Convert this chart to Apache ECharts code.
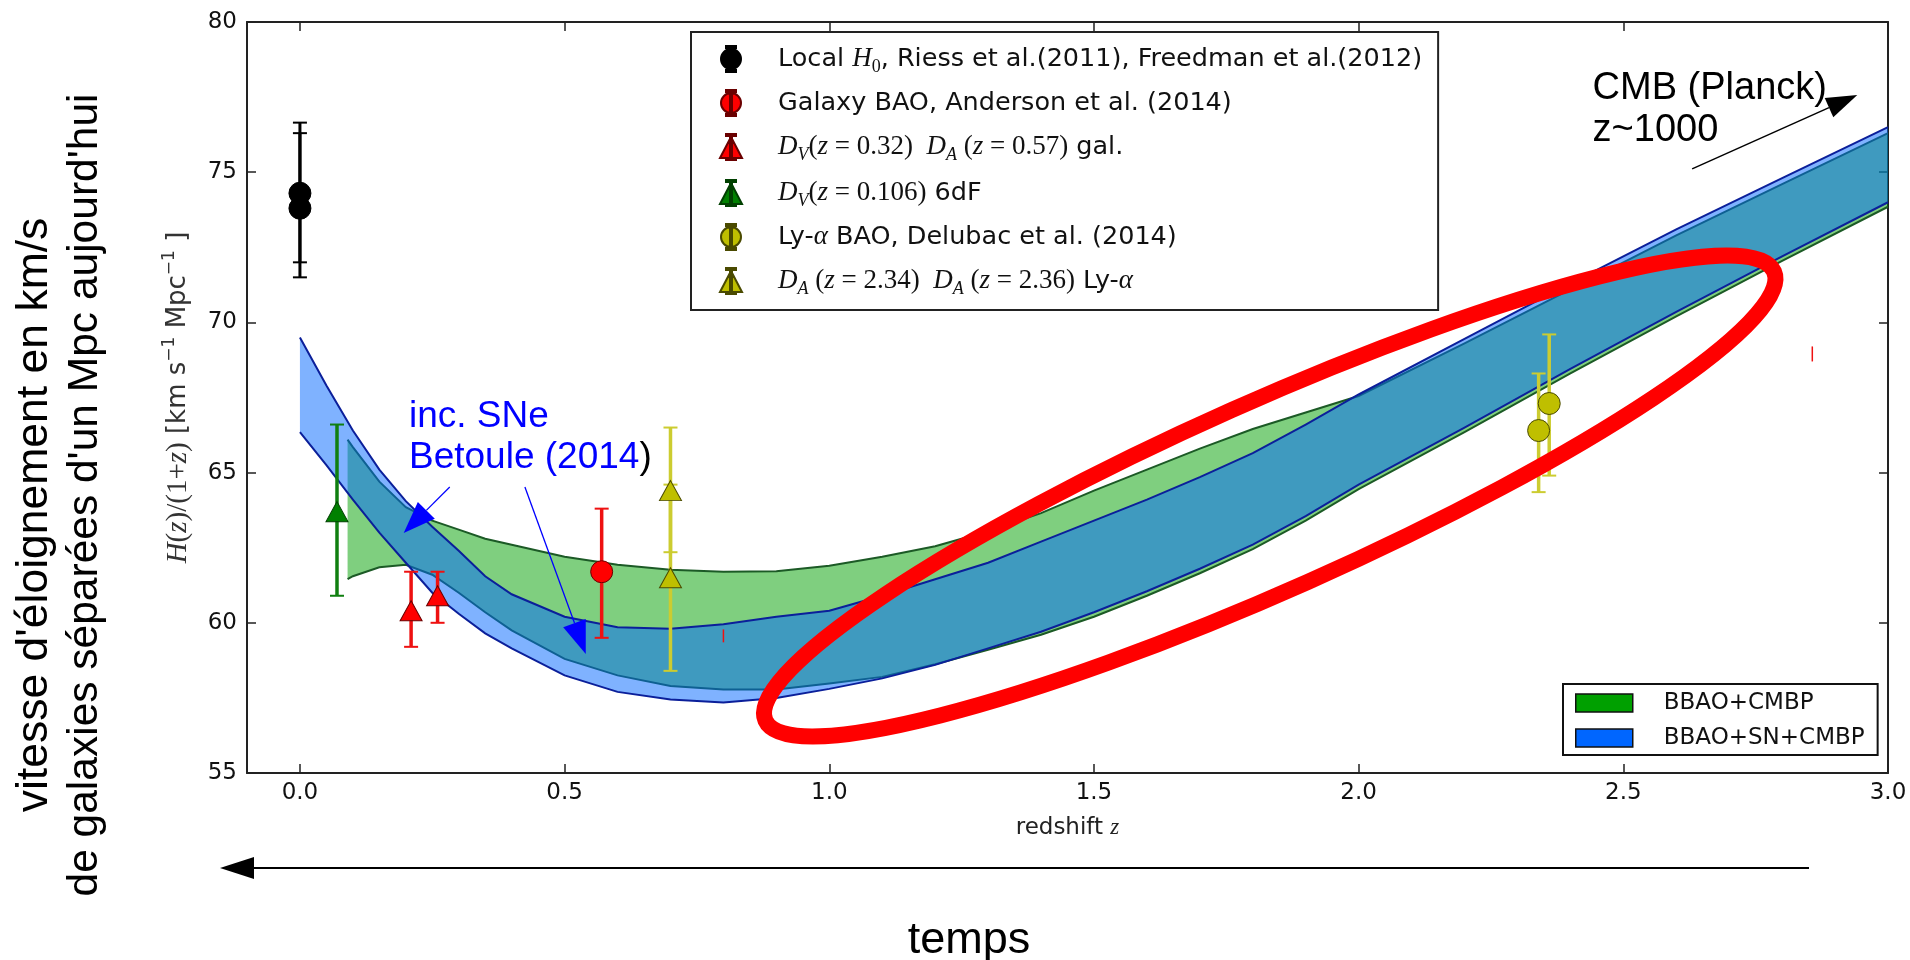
<!DOCTYPE html>
<html>
<head>
<meta charset="utf-8">
<script src="https://cdn.jsdelivr.net/npm/echarts@6/dist/echarts.min.js"></script>
<style>
  html, body { margin: 0; padding: 0; background: #fff; }
  #chart { width: 1910px; height: 960px; }
</style>
</head>
<body>
<div id="chart"></div>
<script>
// valeurs
var xTicks = [0, 0.5, 1, 1.5, 2, 2.5, 3];

// bande BBAO+SN+CMBP (bleue)
var zBlue  = [0, 0.05, 0.1, 0.15, 0.2, 0.25, 0.3, 0.35, 0.4, 0.5, 0.6, 0.7, 0.8, 0.9, 1.0, 1.1, 1.2, 1.3, 1.4, 1.5, 1.6, 1.7, 1.8, 1.9, 2.0, 2.2, 2.4, 2.6, 2.8, 3.0];
var blueHi = [69.5, 67.9, 66.4, 65.1, 64.05, 63.2, 62.4, 61.55, 60.95, 60.2, 59.85, 59.8, 59.95, 60.2, 60.4, 60.9, 61.45, 62.0, 62.7, 63.4, 64.1, 64.85, 65.65, 66.6, 67.6, 69.45, 71.3, 73.1, 74.8, 76.5];
var blueLo = [66.35, 65.25, 64.1, 63.0, 62.0, 61.0, 60.3, 59.65, 59.15, 58.25, 57.7, 57.45, 57.35, 57.5, 57.8, 58.15, 58.6, 59.15, 59.7, 60.35, 61.05, 61.8, 62.6, 63.55, 64.6, 66.5, 68.45, 70.35, 72.2, 74.0];

// bande BBAO+CMBP (verte)
var zGreen  = [0.09, 0.1, 0.15, 0.2, 0.25, 0.3, 0.35, 0.4, 0.5, 0.6, 0.7, 0.8, 0.9, 1.0, 1.1, 1.2, 1.3, 1.4, 1.5, 1.6, 1.7, 1.8, 1.9, 2.0, 2.2, 2.4, 2.6, 2.8, 3.0];
var greenHi = [66.1, 65.85, 64.7, 63.85, 63.4, 63.1, 62.8, 62.6, 62.2, 61.93, 61.77, 61.7, 61.72, 61.9, 62.2, 62.55, 63.05, 63.65, 64.4, 65.1, 65.8, 66.45, 67.0, 67.55, 69.3, 71.1, 72.9, 74.6, 76.3];
var greenLo = [61.45, 61.55, 61.85, 61.93, 61.6, 61.0, 60.35, 59.75, 58.8, 58.25, 57.9, 57.78, 57.78, 57.98, 58.2, 58.62, 59.1, 59.6, 60.2, 60.9, 61.65, 62.45, 63.4, 64.45, 66.35, 68.3, 70.2, 72.05, 73.85];

// points : [z, valeur, bas, haut]
var localH0    = [[0, 74.3, 72.0, 76.65], [0, 73.8, 71.5, 76.3]];
var galaxyBao  = [[0.57, 61.7, 59.5, 63.8]];
var galaxyDvDa = [[0.21, 60.4, 59.2, 61.7], [0.26, 60.9, 60.0, 61.7]];
var sixdf      = [[0.07, 63.7, 60.9, 66.6]];
var lyaBao     = [[2.34, 66.4, 64.35, 68.3], [2.36, 67.3, 64.9, 69.6]];
var lyaDa      = [[0.70, 64.4, 62.35, 66.5], [0.70, 61.5, 58.4, 64.6]];
// petits traits rouges isolés : [z, bas, haut]
var strayRed   = [[0.80, 59.35, 59.78], [2.857, 68.7, 69.2]];

var nH0 = 'Local H0, Riess et al.(2011), Freedman et al.(2012)';
var nGal = 'Galaxy BAO, Anderson et al. (2014)';
var nGalDa = 'DV(z=0.32) DA(z=0.57) gal.';
var n6df = 'DV(z=0.106) 6dF';
var nLya = 'Ly-a BAO, Delubac et al. (2014)';
var nLyaDa = 'DA(z=2.34) DA(z=2.36) Ly-a';
var nGreen = 'BBAO+CMBP';
var nBlue = 'BBAO+SN+CMBP';

var legendText = {};
legendText[nH0] = '{t|Local }{mi|H}{subr|0}{t|, Riess et al.(2011), Freedman et al.(2012)}';
legendText[nGal] = '{t|Galaxy BAO, Anderson et al. (2014)}';
legendText[nGalDa] = '{mi|D}{sub|V}{mr|(}{mi|z}{mr| = 0.32)  }{mi|D}{sub|A}{mr| (}{mi|z}{mr| = 0.57)}{t| gal.}';
legendText[n6df] = '{mi|D}{sub|V}{mr|(}{mi|z}{mr| = 0.106)}{t| 6dF}';
legendText[nLya] = '{t|Ly-}{mi|α}{t| BAO, Delubac et al. (2014)}';
legendText[nLyaDa] = '{mi|D}{sub|A}{mr| (}{mi|z}{mr| = 2.34)  }{mi|D}{sub|A}{mr| (}{mi|z}{mr| = 2.36)}{t| Ly-}{mi|α}';

var capsLine = 'M6,0H16V2H12V24H16V26H6V24H10V2H6Z ';
var iconCircle = 'path://' + capsLine + 'M1,13A10,10 0 1,1 21,13A10,10 0 1,1 1,13Z';
var iconTri = 'path://' + capsLine + 'M0,24L11,3L22,24Z';

function bandSeries(name, zs, hi, lo, fill, edge) {
  return {
    type: 'custom',
    name: name,
    silent: true,
    data: [[zs[0], lo[0]]],
    renderItem: function (params, api) {
      var top = zs.map(function (z, i) { return api.coord([z, hi[i]]); });
      var bot = zs.map(function (z, i) { return api.coord([z, lo[i]]); });
      return {
        type: 'group',
        children: [
          { type: 'polygon', shape: { points: top.concat(bot.slice().reverse()) }, style: { fill: fill } },
          { type: 'polyline', shape: { points: top }, style: { stroke: edge, lineWidth: 2, fill: null } },
          { type: 'polyline', shape: { points: bot }, style: { stroke: edge, lineWidth: 2, fill: null } }
        ]
      };
    }
  };
}

function errorSeries(name, rows, color, barW, capW, loDim, hiDim) {
  return {
    type: 'custom',
    name: name,
    silent: true,
    data: rows,
    encode: { x: 0, y: 1 },
    z: 3,
    renderItem: function (params, api) {
      var z = api.value(0);
      var lo = api.coord([z, api.value(loDim)]);
      var hi = api.coord([z, api.value(hiDim)]);
      var kids = [{ type: 'line', shape: { x1: lo[0], y1: lo[1], x2: hi[0], y2: hi[1] }, style: { stroke: color, lineWidth: barW } }];
      if (capW) {
        kids.push({ type: 'line', shape: { x1: lo[0] - capW, y1: lo[1], x2: lo[0] + capW, y2: lo[1] }, style: { stroke: color, lineWidth: 2 } });
        kids.push({ type: 'line', shape: { x1: hi[0] - capW, y1: hi[1], x2: hi[0] + capW, y2: hi[1] }, style: { stroke: color, lineWidth: 2 } });
      }
      return { type: 'group', children: kids };
    }
  };
}

function pointSeries(name, rows, symbol, size, color, border) {
  return {
    type: 'scatter',
    name: name,
    silent: true,
    data: rows,
    encode: { x: 0, y: 1 },
    symbol: symbol,
    symbolSize: size,
    z: 4,
    itemStyle: { color: color, borderColor: border, borderWidth: 1, opacity: 1 }
  };
}

var tickFont = { fontFamily: 'DejaVu Sans', fontSize: 23, color: '#111' };
var spine = { show: true, onZero: false, lineStyle: { color: '#222', width: 2 } };
var ticksIn = { show: true, inside: true, length: 9, lineStyle: { color: '#222', width: 1.5 } };

var option = {
  animation: false,
  backgroundColor: '#fff',
  grid: { left: 247, right: 22, top: 22, bottom: 187 },
  xAxis: [{
    type: 'value', min: -0.1, max: 3.0, position: 'bottom',
    axisLine: spine,
    axisTick: Object.assign({ customValues: xTicks }, ticksIn),
    axisLabel: Object.assign({ customValues: xTicks, margin: 9, formatter: function (v) { return v.toFixed(1); } }, tickFont),
    splitLine: { show: false },
    name: '{t|redshift }{mi|z}',
    nameLocation: 'middle',
    nameGap: 42,
    nameTextStyle: {
      rich: {
        t: { fontFamily: 'DejaVu Sans', fontSize: 23, color: '#222', lineHeight: 26 },
        mi: { fontFamily: 'Liberation Serif', fontStyle: 'italic', fontSize: 23, color: '#222', lineHeight: 26 }
      }
    }
  }, {
    type: 'value', min: -0.1, max: 3.0, position: 'top',
    axisLine: spine,
    axisTick: Object.assign({ customValues: xTicks }, ticksIn),
    axisLabel: { show: false },
    splitLine: { show: false }
  }],
  yAxis: [{
    type: 'value', min: 55, max: 80, interval: 5, position: 'left',
    axisLine: spine,
    axisTick: ticksIn,
    axisLabel: Object.assign({ margin: 10 }, tickFont),
    splitLine: { show: false },
    name: '{mi|H}{mr|(}{mi|z}{mr|)/(1+}{mi|z}{mr|)}{t| [km s}{sup|−1}{t| Mpc}{sup|−1}{t| ]}',
    nameLocation: 'middle',
    nameRotate: 90,
    nameGap: 54,
    nameTextStyle: {
      rich: {
        t: { fontFamily: 'DejaVu Sans', fontSize: 26, color: '#333', lineHeight: 30 },
        mi: { fontFamily: 'Liberation Serif', fontStyle: 'italic', fontSize: 29, color: '#333', lineHeight: 30 },
        mr: { fontFamily: 'Liberation Serif', fontSize: 29, color: '#333', lineHeight: 30 },
        sup: { fontFamily: 'DejaVu Sans', fontSize: 17, color: '#333', lineHeight: 14, padding: [0, 0, 16, 0] }
      }
    }
  }, {
    type: 'value', min: 55, max: 80, interval: 5, position: 'right',
    axisLine: spine,
    axisTick: ticksIn,
    axisLabel: { show: false },
    splitLine: { show: false }
  }],
  legend: [{
    orient: 'vertical',
    left: 691, top: 32,
    padding: [10, 16, 12, 28],
    itemGap: 12,
    itemWidth: 22, itemHeight: 26,
    selectedMode: false,
    backgroundColor: '#fff',
    borderColor: '#222', borderWidth: 2,
    data: [
      { name: nH0, icon: iconCircle },
      { name: nGal, icon: iconCircle },
      { name: nGalDa, icon: iconTri },
      { name: n6df, icon: iconTri },
      { name: nLya, icon: iconCircle },
      { name: nLyaDa, icon: iconTri }
    ],
    formatter: function (name) { return '{sp|\u00a0}' + legendText[name]; },
    textStyle: {
      color: '#111', fontFamily: 'DejaVu Sans', fontSize: 25.5, lineHeight: 30,
      rich: {
        sp: { width: 31 },
        t: { fontFamily: 'DejaVu Sans', fontSize: 25.5, lineHeight: 30, color: '#111' },
        mi: { fontFamily: 'Liberation Serif', fontStyle: 'italic', fontSize: 27, lineHeight: 30, color: '#111' },
        mr: { fontFamily: 'Liberation Serif', fontSize: 27, lineHeight: 30, color: '#111' },
        sub: { fontFamily: 'Liberation Serif', fontStyle: 'italic', fontSize: 18, lineHeight: 14, padding: [16, 0, 0, 0], color: '#111' },
        subr: { fontFamily: 'Liberation Serif', fontSize: 18, lineHeight: 14, padding: [16, 0, 0, 0], color: '#111' }
      }
    }
  }, {
    orient: 'vertical',
    left: 1563, top: 684,
    padding: [7, 13, 5, 12],
    itemGap: 11,
    itemWidth: 57, itemHeight: 18,
    selectedMode: false,
    backgroundColor: '#fff',
    borderColor: '#111', borderWidth: 2,
    data: [
      { name: nGreen, icon: 'rect', itemStyle: { color: '#00a000', borderColor: '#111', borderWidth: 1.5 } },
      { name: nBlue, icon: 'rect', itemStyle: { color: '#0066ff', borderColor: '#111', borderWidth: 1.5 } }
    ],
    formatter: function (name) { return '{sp|\u00a0}{t|' + name + '}'; },
    textStyle: {
      color: '#111', fontFamily: 'DejaVu Sans', fontSize: 23, lineHeight: 24,
      rich: {
        sp: { width: 26 },
        t: { fontFamily: 'DejaVu Sans', fontSize: 23, lineHeight: 24, color: '#111' }
      }
    }
  }],
  series: [
    bandSeries(nGreen, zGreen, greenHi, greenLo, 'rgba(0,160,0,0.5)', '#1c5a26'),
    bandSeries(nBlue, zBlue, blueHi, blueLo, 'rgba(0,102,255,0.5)', '#0b1f9a'),
    errorSeries('err-h0', localH0, '#000000', 3, 7, 2, 3),
    errorSeries('err-gal', galaxyBao, '#ee1111', 3.5, 7, 2, 3),
    errorSeries('err-galda', galaxyDvDa, '#ee1111', 3.5, 7, 2, 3),
    errorSeries('err-6df', sixdf, '#107f10', 3.5, 7, 2, 3),
    errorSeries('err-lya', lyaBao, '#cccc30', 3.5, 7, 2, 3),
    errorSeries('err-lyada', lyaDa, '#cccc30', 3.5, 7, 2, 3),
    errorSeries('err-stray', strayRed, '#ee1111', 1.5, 0, 1, 2),
    pointSeries(nH0, localH0, 'circle', 22, '#000000', '#000000'),
    pointSeries(nGal, galaxyBao, 'circle', 22, '#ff0000', '#6a0000'),
    pointSeries(nGalDa, galaxyDvDa, 'triangle', [22, 20], '#ff0000', '#6a0000'),
    pointSeries(n6df, sixdf, 'triangle', [22, 20], '#008000', '#004000'),
    pointSeries(nLya, lyaBao, 'circle', 22, '#bfbf00', '#4a4a00'),
    pointSeries(nLyaDa, lyaDa, 'triangle', [22, 20], '#bfbf00', '#4a4a00')
  ]
};

var chart = echarts.init(document.getElementById('chart'));
chart.setOption(option);

// annotations ajoutées sur la figure (positions en coordonnées des données)
function px(p) { return chart.convertToPixel({ xAxisIndex: 0, yAxisIndex: 0 }, p); }

function arrow(from, tip, headLen, headW, color, lw) {
  var dx = tip[0] - from[0], dy = tip[1] - from[1];
  var len = Math.sqrt(dx * dx + dy * dy);
  var ux = dx / len, uy = dy / len;
  var bx = tip[0] - ux * headLen, by = tip[1] - uy * headLen;
  var nx = -uy * headW / 2, ny = ux * headW / 2;
  return [
    { type: 'line', z: 100, silent: true, shape: { x1: from[0], y1: from[1], x2: bx, y2: by }, style: { stroke: color, lineWidth: lw } },
    { type: 'polygon', z: 100, silent: true, shape: { points: [[tip[0], tip[1]], [bx + nx, by + ny], [bx - nx, by - ny]] }, style: { fill: color } }
  ];
}

var ellC = px([1.832, 64.22]);
var cmbTxt = px([2.442, 77.09]);
var snTxt = px([0.206, 66.19]);

var graphics = [
  {
    type: 'ellipse', z: 100, silent: true,
    x: ellC[0], y: ellC[1], rotation: 24 * Math.PI / 180,
    shape: { cx: 0, cy: 0, rx: 552, ry: 94 },
    style: { fill: null, stroke: '#ff0000', lineWidth: 16 }
  },
  {
    type: 'text', z: 100, silent: true, x: cmbTxt[0], y: cmbTxt[1],
    style: { text: 'CMB (Planck)\nz~1000', fontFamily: 'Liberation Sans', fontSize: 38, lineHeight: 42, fill: '#000', align: 'left', verticalAlign: 'middle' }
  },
  {
    type: 'text', z: 100, silent: true, x: snTxt[0], y: snTxt[1],
    style: {
      text: '{b|inc. SNe}\n{b|Betoule (2014}{k|)}', align: 'left', verticalAlign: 'middle',
      rich: {
        b: { fontFamily: 'Liberation Sans', fontSize: 37, lineHeight: 41, fill: '#0000ff' },
        k: { fontFamily: 'Liberation Sans', fontSize: 37, lineHeight: 41, fill: '#000' }
      }
    }
  },
  {
    type: 'text', silent: true, x: 35, y: 515, rotation: Math.PI / 2,
    style: { text: 'vitesse d\'éloignement en km/s', fontFamily: 'Liberation Sans', fontSize: 44.5, fill: '#000', align: 'center', verticalAlign: 'middle' }
  },
  {
    type: 'text', silent: true, x: 85, y: 495, rotation: Math.PI / 2,
    style: { text: 'de galaxies séparées d\'un Mpc aujourd\'hui', fontFamily: 'Liberation Sans', fontSize: 42.5, fill: '#000', align: 'center', verticalAlign: 'middle' }
  },
  {
    type: 'text', silent: true, x: 969, y: 941,
    style: { text: 'temps', fontFamily: 'Liberation Sans', fontSize: 45, fill: '#000', align: 'center', verticalAlign: 'middle' }
  }
];
graphics = graphics
  .concat(arrow(px([2.63, 75.11]), px([2.942, 77.57]), 31, 21, '#000', 1.5))
  .concat(arrow(px([0.283, 64.52]), px([0.196, 62.99]), 32, 24, '#0000ff', 1.3))
  .concat(arrow(px([0.425, 64.52]), px([0.540, 58.96]), 33, 24, '#0000ff', 1.3))
  .concat(arrow([1809, 868], [220, 868], 34, 22, '#000', 2));

chart.setOption({ graphic: graphics });
</script>
</body>
</html>
